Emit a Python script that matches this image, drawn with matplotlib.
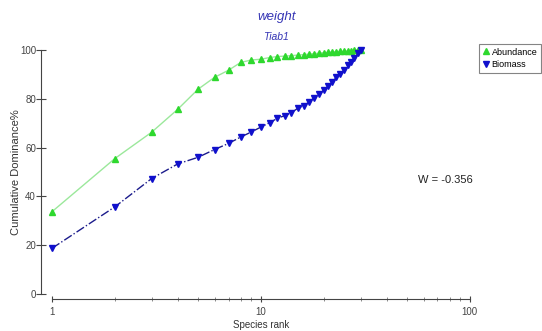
import matplotlib.pyplot as plt

plt.rcParams["font.family"] = ["Liberation Sans", "DejaVu Sans"]

# species rank 1..30
ranks = list(range(1, 31))
abundance = [33.7, 55.5, 66.3, 75.7, 83.9, 88.8, 91.7, 94.9, 95.9, 96.2,
             96.9, 97.3, 97.5, 97.7, 97.9, 98.1, 98.3, 98.5, 98.7, 98.9,
             99.0, 99.2, 99.3, 99.4, 99.5, 99.6, 99.7, 99.8, 99.9, 100.0]
biomass = [18.7, 35.7, 47.3, 53.3, 56.0, 59.2, 61.7, 64.3, 66.4, 68.4,
           70.2, 72.0, 73.1, 74.3, 76.1, 77.2, 78.6, 80.5, 81.8, 83.6,
           85.2, 87.0, 88.8, 90.2, 91.8, 93.7, 95.2, 96.9, 98.6, 100.0]
w_stat = "W = -0.356"

fig = plt.figure(figsize=(5.42, 3.31), dpi=100)
ax = fig.add_axes([0.0959, 0.112, 0.771, 0.737])

ax.plot(ranks, abundance, color="#9be89b", lw=1, marker="^", ms=4.5,
        mfc="#2ed82e", mec="#2ed82e", label="Abundance", clip_on=False)
ax.plot(ranks, biomass, color="#1c1c8c", lw=1, ls="-.", marker="v", ms=4.5,
        mfc="#1010cc", mec="#1010cc", label="Biomass", clip_on=False)

ax.set_xscale("log")
ax.set_xlim(1, 100)
ax.set_ylim(0, 100)
ax.set_xticks([1, 10, 100])
ax.set_xticklabels(["1", "10", "100"])
ax.set_yticks([0, 20, 40, 60, 80, 100])

for s in ["top", "right"]:
    ax.spines[s].set_visible(False)
ax.spines["left"].set_position(("outward", 8))
ax.spines["bottom"].set_position(("outward", 4))
ax.spines["left"].set_color("#444444")
ax.spines["bottom"].set_color("#444444")
ax.tick_params(axis="y", direction="inout", length=7, width=0.8,
               labelsize=7, colors="#444444", pad=0)
ax.tick_params(axis="x", which="major", direction="inout", length=5,
               labelsize=7, colors="#444444", pad=3)
ax.tick_params(axis="x", which="minor", direction="inout", length=3,
               colors="#777777")

ax.set_xlabel("Species rank", fontsize=7, color="#333333", labelpad=2)
ax.set_ylabel("Cumulative Dominance%", fontsize=8, color="#333333", labelpad=-1)

fig.text(0.510, 0.949, "weight", style="italic", color="#3535b5",
         fontsize=9.5, ha="center", va="center")
fig.text(0.510, 0.888, "Tiab1", style="italic", color="#3535b5",
         fontsize=7.5, ha="center", va="center")
fig.text(0.822, 0.456, w_stat, fontsize=8, color="#222222",
         ha="center", va="center")

leg = fig.legend(loc="upper right", bbox_to_anchor=(0.998, 0.867), fontsize=6.5,
                 frameon=True, fancybox=False, edgecolor="#666666",
                 handlelength=0.7, handletextpad=0.3, borderpad=0.4,
                 labelspacing=0.4, markerscale=0.9, borderaxespad=0)
for h in leg.legend_handles:
    h.set_linestyle("")
leg.get_frame().set_linewidth(0.8)

fig.savefig("out.png", dpi=100)
